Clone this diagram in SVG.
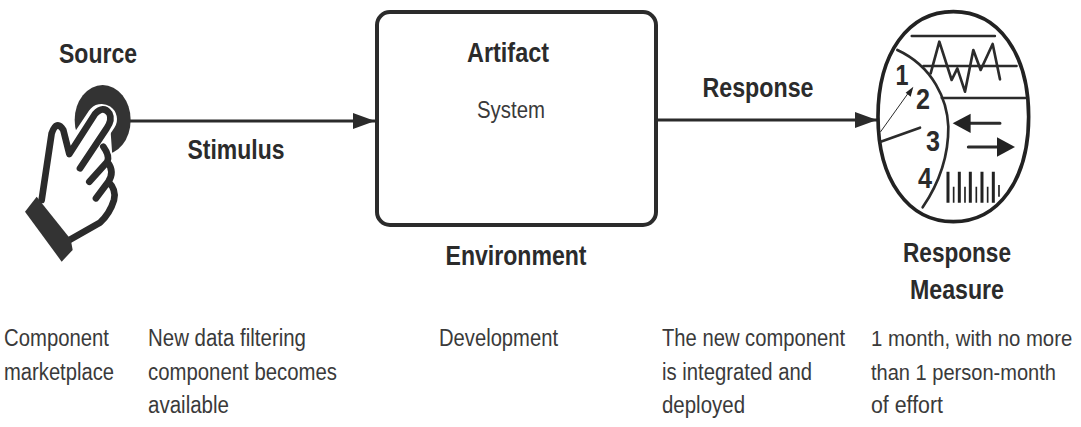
<svg xmlns="http://www.w3.org/2000/svg" width="1081" height="427" viewBox="0 0 1081 427">
<defs><marker id="ah" markerUnits="userSpaceOnUse" markerWidth="24" markerHeight="18" refX="22" refY="8" orient="auto"><path d="M0,0L22,8L0,16Z" fill="#2b2b2b"/></marker></defs>
<style>
text{font-family:"Liberation Sans",Arial,sans-serif;fill:#3a3a3a}
.h{font-size:27px;font-weight:bold;fill:#2b2b2b}
.d{font-size:30px;font-weight:bold;fill:#2b2b2b}
.t{font-size:23px}
.l{fill:none;stroke:#2b2b2b;stroke-linecap:round;stroke-linejoin:round}
</style>
<rect width="1081" height="427" fill="#fff"/>
<g id="connectors">
<path d="M129,121H375" stroke="#2b2b2b" stroke-width="3" fill="none" marker-end="url(#ah)"/>
<path d="M657,120H877" stroke="#2b2b2b" stroke-width="3" fill="none" marker-end="url(#ah)"/>
</g>
<g id="source">
<text class="h" x="98" y="63" text-anchor="middle" textLength="78" lengthAdjust="spacingAndGlyphs">Source</text>
<g transform="translate(0,30) scale(.3333)">
<ellipse cx="308" cy="270" rx="84" ry="105" fill="#333"/>
<path d="M125,510L155,310Q170,268 190,300L208,372L285,252Q310,225 328,250L345,490Q338,540 300,578L205,632Z" fill="#fff"/>
<path d="M222,392L305,268" fill="none" stroke="#fff" stroke-width="92" stroke-linecap="round"/>
<path class="l" stroke-width="20" d="M125,510L155,310Q170,268 190,300L208,372L285,252Q310,225 328,250Q338,270 320,295L240,415"/>
<path class="l" stroke-width="20" d="M310,350Q330,378 322,395L268,455M322,395Q345,425 325,455L288,505M325,455Q350,480 342,510Q330,550 300,578L205,632"/>
<path d="M110,500L75,545L185,695L218,660L212,628Z" fill="#333"/>
</g>
</g>
<g id="stimulus-label"><text class="h" x="236" y="159" text-anchor="middle" textLength="97" lengthAdjust="spacingAndGlyphs">Stimulus</text></g>
<g id="artifact">
<rect x="377" y="12" width="279" height="213" rx="13" fill="#fff" stroke="#2b2b2b" stroke-width="4"/>
<text class="h" x="508" y="62" text-anchor="middle" textLength="82" lengthAdjust="spacingAndGlyphs">Artifact</text>
<text class="t" x="511" y="118" text-anchor="middle" textLength="68" lengthAdjust="spacingAndGlyphs">System</text>
</g>
<g id="environment"><text class="h" x="516" y="265" text-anchor="middle" textLength="141" lengthAdjust="spacingAndGlyphs">Environment</text></g>
<g id="response-label"><text class="h" x="758" y="97" text-anchor="middle" textLength="111" lengthAdjust="spacingAndGlyphs">Response</text></g>
<g id="response-measure">
<g transform="translate(860,20) scale(.3333)">
<path d="M280,-25C416,-25 506,101 506,290C506,479 416,605 280,605C144,605 54,479 54,290C54,101 144,-25 280,-25Z" fill="#fff" stroke="#222" stroke-width="11"/>
<path class="l" stroke-width="7" d="M155,48H405M190,138H470M245,234H497"/>
<path class="l" stroke-width="8" d="M212,160L238,65L275,180L292,145L315,215L340,90L362,150L398,72L420,178"/>
<path class="l" stroke-width="8" d="M112,90C220,140 262,240 265,320C266,420 230,500 188,562"/>
<path class="l" stroke-width="3" d="M62,335L150,212"/>
<path d="M160,200L137,218L152,230Z" fill="#222"/>
<path class="l" stroke-width="8" d="M62,365L180,323"/>
<path class="l" stroke-width="9" d="M325,310H420M325,381H415"/>
<path d="M278,310L332,281V339Z" fill="#222"/><path d="M465,381L411,352V410Z" fill="#222"/>
<path stroke="#222" fill="none" stroke-width="9" d="M264,455V548M298,455V548M331,455V548M366,455V548M400,455V548"/>
<path stroke="#222" fill="none" stroke-width="5" d="M281,500V548M315,500V548M349,500V548M383,500V548M417,495V530"/>
</g>
<text class="d" x="902" y="85" text-anchor="middle" textLength="13" lengthAdjust="spacingAndGlyphs">1</text>
<text class="d" x="923" y="109" text-anchor="middle" textLength="14" lengthAdjust="spacingAndGlyphs">2</text>
<text class="d" x="933" y="151" text-anchor="middle" textLength="14" lengthAdjust="spacingAndGlyphs">3</text>
<text class="d" x="925" y="188" text-anchor="middle" textLength="14" lengthAdjust="spacingAndGlyphs">4</text>
<text class="h" x="957" y="262" text-anchor="middle" textLength="108" lengthAdjust="spacingAndGlyphs">Response</text>
<text class="h" x="957" y="299" text-anchor="middle" textLength="94" lengthAdjust="spacingAndGlyphs">Measure</text>
</g>
<g id="desc">
<text class="t" x="4" y="346" textLength="105" lengthAdjust="spacingAndGlyphs">Component</text>
<text class="t" x="4" y="380" textLength="110" lengthAdjust="spacingAndGlyphs">marketplace</text>
<text class="t" x="148" y="346" textLength="158" lengthAdjust="spacingAndGlyphs">New data filtering</text>
<text class="t" x="148" y="380" textLength="189" lengthAdjust="spacingAndGlyphs">component becomes</text>
<text class="t" x="148" y="413" textLength="81" lengthAdjust="spacingAndGlyphs">available</text>
<text class="t" x="439" y="346" textLength="119" lengthAdjust="spacingAndGlyphs">Development</text>
<text class="t" x="662" y="346" textLength="183" lengthAdjust="spacingAndGlyphs">The new component</text>
<text class="t" x="662" y="380" textLength="150" lengthAdjust="spacingAndGlyphs">is integrated and</text>
<text class="t" x="662" y="413" textLength="83" lengthAdjust="spacingAndGlyphs">deployed</text>
<text class="t" transform="translate(871,346) scale(.885,1)">1 month, with no more</text>
<text class="t" transform="translate(871,380) scale(.872,1)">than 1 person-month</text>
<text class="t" x="871" y="413" textLength="72" lengthAdjust="spacingAndGlyphs">of effort</text>
</g>
</svg>
